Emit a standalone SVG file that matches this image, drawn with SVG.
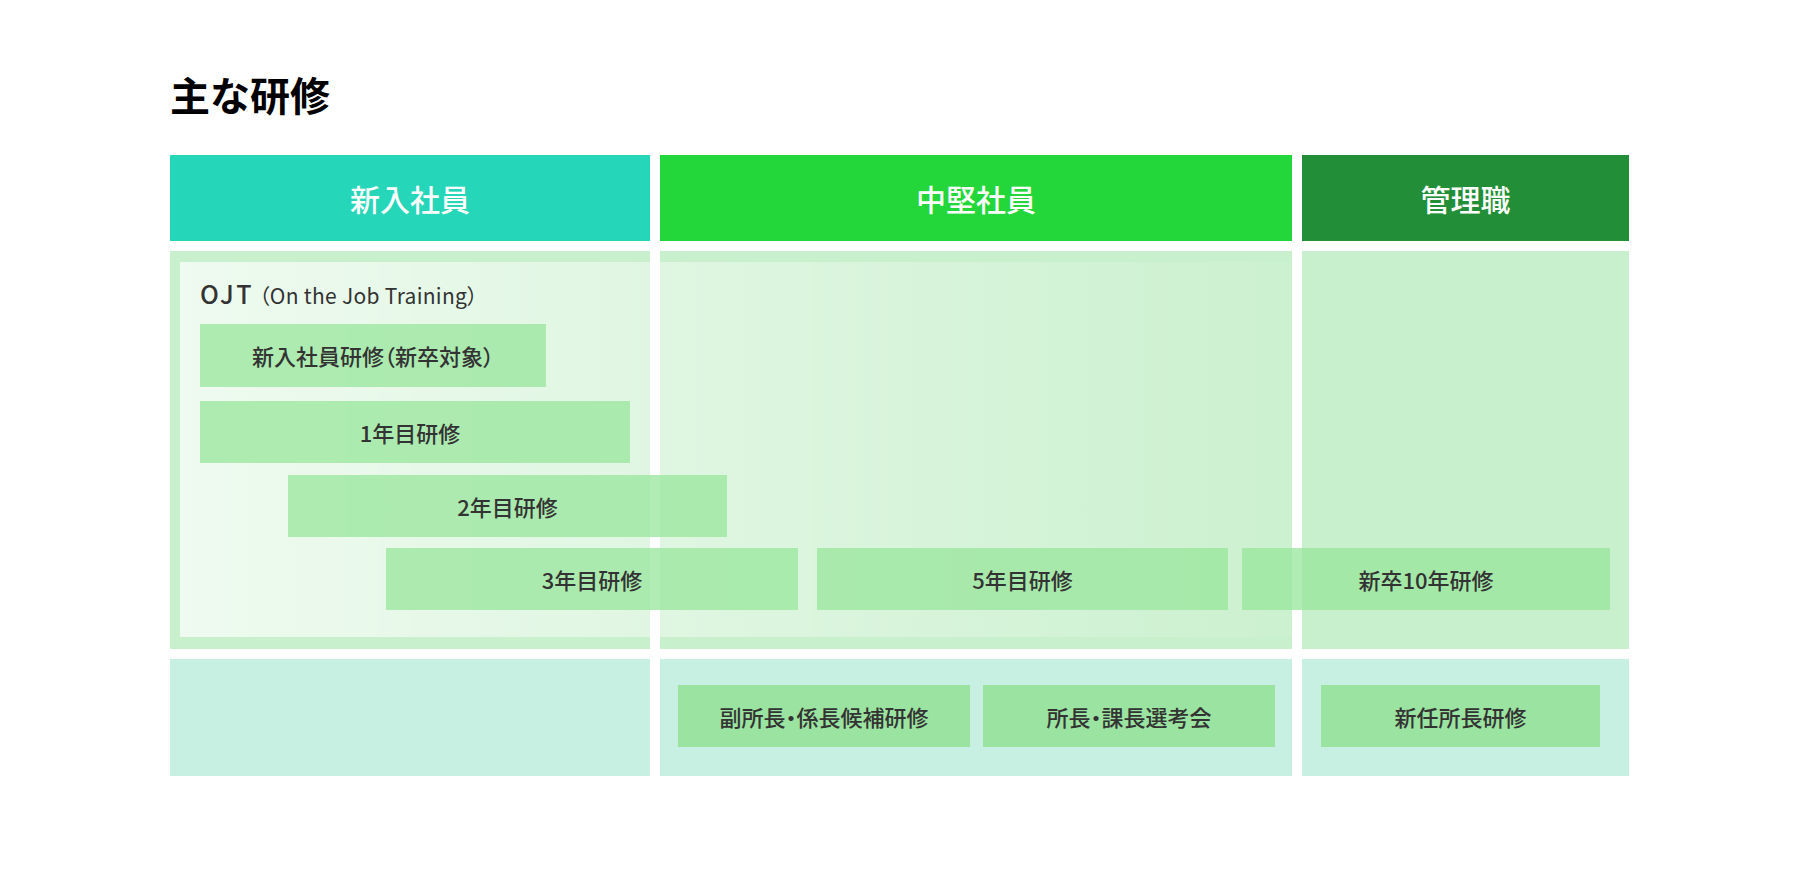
<svg xmlns="http://www.w3.org/2000/svg" width="1799" height="883" viewBox="0 0 1799 883">
  <defs>
    <linearGradient id="ojtGrad" gradientUnits="userSpaceOnUse" x1="180" y1="0" x2="1292" y2="0">
      <stop offset="0" stop-color="#ffffff" stop-opacity="0.7"/>
      <stop offset="1" stop-color="#ffffff" stop-opacity="0.05"/>
    </linearGradient>
  </defs>
  <style>
    .ff { font-family: "Noto Sans CJK JP", "Noto Sans", sans-serif; }
    .title { font-size: 40px; font-weight: 700; fill: #000000; }
    .hdr { font-size: 30px; font-weight: 500; fill: #ffffff; text-anchor: middle; }
    .body { fill: #c9f0cd; }
    .low { fill: #c7f0e3; }
    .box { fill: #97e59b; fill-opacity: 0.74; }
    .box2 { fill: #9ae3a0; }
    .lbl { font-size: 22px; font-weight: 500; fill: #333333; text-anchor: middle; font-feature-settings: "palt"; }
    .ojt { font-size: 25px; font-weight: 500; fill: #333333; letter-spacing: 2.5px; }
    .ojtsub { font-size: 21px; font-weight: 400; fill: #333333; letter-spacing: 0.3px; font-feature-settings: "palt"; }
  </style>
  <rect x="0" y="0" width="1799" height="883" fill="#ffffff"/>

  <g id="title">
    <text class="ff title" x="170" y="111">主な研修</text>
  </g>

  <g id="header-shinnyu">
    <rect x="170" y="155" width="480" height="86" fill="#25d6b9"/>
    <text class="ff hdr" x="410" y="210.5">新入社員</text>
  </g>
  <g id="header-chuken">
    <rect x="660" y="155" width="632" height="86" fill="#23d639"/>
    <text class="ff hdr" x="976" y="210.5">中堅社員</text>
  </g>
  <g id="header-kanri">
    <rect x="1302" y="155" width="327" height="86" fill="#228f38"/>
    <text class="ff hdr" x="1465.5" y="210.5">管理職</text>
  </g>

  <g id="body-columns">
    <rect class="body" x="170" y="251" width="480" height="398"/>
    <rect class="body" x="660" y="251" width="632" height="398"/>
    <rect class="body" x="1302" y="251" width="327" height="398"/>
  </g>

  <g id="ojt-area">
    <rect x="180" y="262" width="470" height="375" fill="url(#ojtGrad)"/>
    <rect x="660" y="262" width="632" height="375" fill="url(#ojtGrad)"/>
    <text class="ff ojt" x="200" y="303.5">OJT</text>
    <text class="ff ojtsub" x="259" y="303.5">（On the Job Training）</text>
  </g>

  <g id="lower-columns">
    <rect class="low" x="170" y="659" width="480" height="117"/>
    <rect class="low" x="660" y="659" width="632" height="117"/>
    <rect class="low" x="1302" y="659" width="327" height="117"/>
  </g>

  <g id="node-shinnyu-kenshu">
    <rect class="box" x="200" y="324" width="346" height="63"/>
    <text class="ff lbl" x="373" y="365">新入社員研修（新卒対象）</text>
  </g>
  <g id="node-1nen">
    <rect class="box" x="200" y="401" width="430" height="62"/>
    <text class="ff lbl" x="410" y="442">1年目研修</text>
  </g>
  <g id="node-2nen">
    <rect class="box" x="288" y="475" width="439" height="62"/>
    <text class="ff lbl" x="507.5" y="516">2年目研修</text>
  </g>
  <g id="node-3nen">
    <rect class="box" x="386" y="548" width="412" height="62"/>
    <text class="ff lbl" x="592" y="589">3年目研修</text>
  </g>
  <g id="node-5nen">
    <rect class="box" x="817" y="548" width="411" height="62"/>
    <text class="ff lbl" x="1022.5" y="589">5年目研修</text>
  </g>
  <g id="node-10nen">
    <rect class="box" x="1242" y="548" width="368" height="62"/>
    <text class="ff lbl" x="1426" y="589">新卒10年研修</text>
  </g>

  <g id="node-fukushocho">
    <rect class="box2" x="678" y="685" width="292" height="62"/>
    <text class="ff lbl" x="824" y="726">副所長・係長候補研修</text>
  </g>
  <g id="node-shocho-senko">
    <rect class="box2" x="983" y="685" width="292" height="62"/>
    <text class="ff lbl" x="1129" y="726">所長・課長選考会</text>
  </g>
  <g id="node-shinnin">
    <rect class="box2" x="1321" y="685" width="279" height="62"/>
    <text class="ff lbl" x="1460.5" y="726">新任所長研修</text>
  </g>

  <g id="connectors"/>
</svg>
